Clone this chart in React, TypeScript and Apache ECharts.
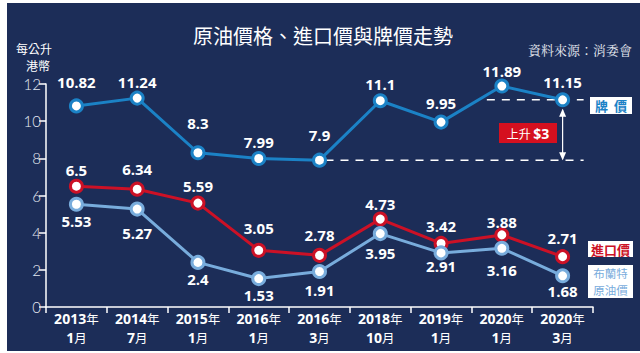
import React, { useEffect, useRef } from "react";
import * as echarts from "echarts";

const years = ["2013", "2014", "2015", "2016", "2016", "2018", "2019", "2020", "2020"];
const months = ["1", "7", "1", "1", "3", "10", "1", "1", "3"];
const pumpPrice = [10.82, 11.24, 8.3, 7.99, 7.9, 11.1, 9.95, 11.89, 11.15];
const importPrice = [6.5, 6.34, 5.59, 3.05, 2.78, 4.73, 3.42, 3.88, 2.71];
const brentPrice = [5.53, 5.27, 2.4, 1.53, 1.91, 3.95, 2.91, 3.16, 1.68];
const yTicks = [0, 2, 4, 6, 8, 10, 12];

// label layout nudges (px, negative = above the point)
const pumpLabelShift = [-24, -16, -30, -17, -25, -17, -19, -15, -18];
const importLabelShift = [-16, -20, -17, -22, -20, -15, -17, -13, -19];
const brentLabelShift = [17, 24, 17, 16, 18, 19, 13, 22, 15];

const NAVY = "#1c2d58";
const BLUE = "#1b82c6";
const RED = "#cc1126";
const LIGHT = "#78acdc";
const FONT = "'Open Sans', 'Noto Sans CJK TC', sans-serif";
const CJK = "'Noto Sans CJK TC', sans-serif";

export default function App() {
  const ref = useRef<HTMLDivElement>(null);
  useEffect(() => {
    if (!ref.current) return;
    const chart = echarts.init(ref.current, null, { renderer: "svg" });
    const categories = years.map((y, i) => `${y}\n${months[i]}`);
    const mkSeries = (name: string, data: number[], shifts: number[], color: string) => ({
      name,
      type: "line",
      data: data.map((v, i) => ({ value: v, label: { offset: [0, shifts[i]] } })),
      symbol: "circle",
      symbolSize: 12,
      lineStyle: { color, width: 3 },
      itemStyle: { color: "#ffffff", borderColor: color, borderWidth: 3 },
      label: {
        show: true,
        position: "inside",
        color: "#ffffff",
        fontFamily: FONT,
        fontWeight: "bold",
        fontSize: 15,
      },
      z: 3,
    });
    chart.setOption({
      animation: false,
      backgroundColor: "#ffffff",
      grid: { left: 46, right: 47, top: 84, bottom: 46 },
      xAxis: {
        type: "category",
        data: categories,
        boundaryGap: true,
        axisLine: { lineStyle: { color: "#ffffff", width: 1.5 } },
        axisTick: { show: true, length: 6, lineStyle: { color: "#ffffff", width: 1.5 } },
        axisLabel: {
          interval: 0,
          margin: 2,
          formatter: (v: string) => {
            const [y, m] = v.split("\n");
            return `{b|${y}}{n|年}\n{b|${m}}{n|月}`;
          },
          rich: {
            b: { color: "#ffffff", fontFamily: FONT, fontWeight: "bold", fontSize: 14, lineHeight: 19 },
            n: { color: "#ffffff", fontFamily: CJK, fontSize: 12.5, lineHeight: 19 },
          },
        },
      },
      yAxis: {
        type: "value",
        min: yTicks[0],
        max: yTicks[yTicks.length - 1],
        interval: 2,
        splitLine: { show: false },
        axisLine: { show: true, lineStyle: { color: "#ffffff", width: 1.5 } },
        axisTick: { show: true, length: 7, lineStyle: { color: "#ffffff", width: 1.5 } },
        axisLabel: { color: "#e4e9f2", fontFamily: "Lato, sans-serif", fontWeight: 300, fontSize: 15, margin: 5 },
      },
      series: [
        mkSeries("牌價", pumpPrice, pumpLabelShift, BLUE),
        mkSeries("進口價", importPrice, importLabelShift, RED),
        mkSeries("布蘭特原油價", brentPrice, brentLabelShift, LIGHT),
      ],
    });

    const px = (i: number, v: number) => chart.convertToPixel({ xAxisIndex: 0, yAxisIndex: 0 }, [i, v]) as number[];
    const last = pumpPrice.length - 1;
    const pLast = px(last, pumpPrice[last]);
    const pLow = px(4, pumpPrice[4]);
    const pPrev = px(last - 1, pumpPrice[last]);
    const dash = { stroke: "#ffffff", lineWidth: 1.5, lineDash: [8, 7] };
    const arrowX = pLast[0];
    const aTop = pLast[1] + 10;
    const aBot = pLow[1] - 1;

    chart.setOption({
      graphic: [
        { type: "rect", shape: { x: 7, y: 3, width: 633, height: 348 }, style: { fill: NAVY }, z: -10, silent: true },
        { type: "line", shape: { x1: pPrev[0] - 15, y1: pLast[1], x2: pLast[0] + 21, y2: pLast[1] }, style: dash, z: 1 },
        { type: "line", shape: { x1: pLow[0] + 6, y1: pLow[1], x2: pLast[0] + 21, y2: pLow[1] }, style: dash, z: 1 },
        { type: "line", shape: { x1: arrowX, y1: aTop, x2: arrowX, y2: aBot }, style: { stroke: "#ffffff", lineWidth: 1.2 }, z: 5 },
        { type: "polygon", shape: { points: [[arrowX, aTop - 1], [arrowX - 3.5, aTop + 7], [arrowX + 3.5, aTop + 7]] }, style: { fill: "#ffffff" }, z: 5 },
        { type: "polygon", shape: { points: [[arrowX, aBot + 1], [arrowX - 3.5, aBot - 7], [arrowX + 3.5, aBot - 7]] }, style: { fill: "#ffffff" }, z: 5 },
        { type: "rect", shape: { x: 499, y: 123, width: 58, height: 20 }, style: { fill: "#d5101f" }, z: 5 },
        {
          type: "text", x: 528, y: 133, z: 6,
          style: {
            text: "{a|上升 }{b|$3}", align: "center", verticalAlign: "middle",
            rich: {
              a: { fill: "#ffffff", fontFamily: CJK, fontSize: 12 },
              b: { fill: "#ffffff", fontFamily: FONT, fontWeight: "bold", fontSize: 14 },
            },
          },
        },
        { type: "rect", shape: { x: 590, y: 97, width: 42, height: 17 }, style: { fill: "#ffffff" }, z: 5 },
        { type: "text", x: 611, y: 105.5, z: 6, style: { text: "牌  價", align: "center", verticalAlign: "middle", fill: BLUE, fontFamily: CJK, fontWeight: "bold", fontSize: 13 } },
        { type: "rect", shape: { x: 588, y: 241, width: 45, height: 16 }, style: { fill: "#ffffff" }, z: 5 },
        { type: "text", x: 610.5, y: 249, z: 6, style: { text: "進口價", align: "center", verticalAlign: "middle", fill: RED, fontFamily: CJK, fontWeight: "bold", fontSize: 13 } },
        { type: "rect", shape: { x: 588, y: 265, width: 45, height: 33 }, style: { fill: "#ffffff" }, z: 5 },
        { type: "text", x: 610.5, y: 273, z: 6, style: { text: "布蘭特", align: "center", verticalAlign: "middle", fill: LIGHT, fontFamily: CJK, fontSize: 11.5 } },
        { type: "text", x: 610.5, y: 290, z: 6, style: { text: "原油價", align: "center", verticalAlign: "middle", fill: LIGHT, fontFamily: CJK, fontSize: 11.5 } },
        { type: "text", x: 323, y: 35, z: 6, style: { text: "原油價格、進口價與牌價走勢", align: "center", verticalAlign: "middle", fill: "#ffffff", fontFamily: CJK, fontSize: 20 } },
        { type: "text", x: 632, y: 49, z: 6, style: { text: "資料來源：消委會", align: "right", verticalAlign: "middle", fill: "#e6e9f0", fontFamily: "'Noto Serif CJK TC', 'Noto Sans CJK TC', serif", fontSize: 13 } },
        { type: "text", x: 34, y: 48, z: 6, style: { text: "每公升", align: "center", verticalAlign: "middle", fill: "#ffffff", fontFamily: CJK, fontSize: 12 } },
        { type: "text", x: 38, y: 65.5, z: 6, style: { text: "港幣", align: "center", verticalAlign: "middle", fill: "#ffffff", fontFamily: CJK, fontSize: 12 } },
      ],
    });
    return () => chart.dispose();
  }, []);
  return <div ref={ref} style={{ position: "fixed", left: 0, top: 0, width: 640, height: 353 }} />;
}
